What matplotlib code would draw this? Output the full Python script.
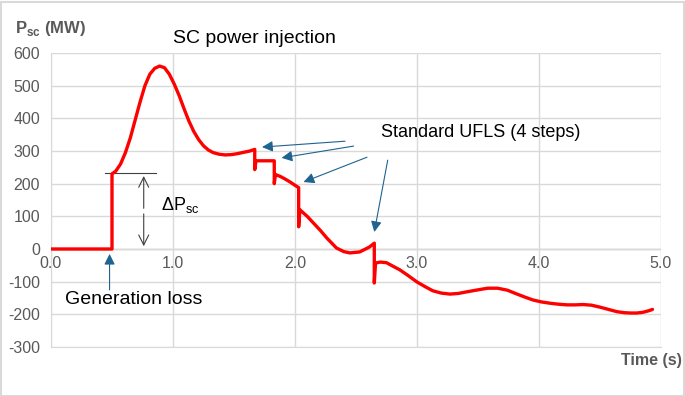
import matplotlib
matplotlib.use("Agg")
import matplotlib.pyplot as plt
from matplotlib.patches import Rectangle

plt.rcParams['font.family'] = ['Liberation Sans', 'DejaVu Sans']
plt.rcParams['mathtext.fontset'] = 'custom'
plt.rcParams['mathtext.rm'] = 'Liberation Sans'
plt.rcParams['mathtext.bf'] = 'Liberation Sans:bold'
plt.rcParams['axes.unicode_minus'] = False

# SC power injection (MW) vs time (s)
t = [0.00, 0.50, 0.50, 0.53, 0.57, 0.61, 0.65, 0.69, 0.73, 0.77, 0.81, 0.85,
     0.89, 0.93, 0.97, 1.01, 1.05, 1.09, 1.13, 1.17, 1.21, 1.25, 1.29, 1.33,
     1.38, 1.43, 1.48, 1.53, 1.58, 1.63, 1.67, 1.67, 1.68, 1.83, 1.83, 1.84,
     1.88, 1.92, 1.96, 2.00, 2.03, 2.03, 2.04, 2.10, 2.15, 2.21, 2.26, 2.34,
     2.40, 2.45, 2.53, 2.61, 2.65, 2.65, 2.66, 2.70, 2.75, 2.80, 2.86, 2.93,
     3.00, 3.07, 3.13, 3.20, 3.27, 3.34, 3.41, 3.50, 3.58, 3.66, 3.74, 3.82,
     3.89, 3.95, 4.02, 4.09, 4.16, 4.23, 4.30, 4.36, 4.43, 4.50, 4.57, 4.64,
     4.70, 4.75, 4.80, 4.85, 4.90, 4.93]
p = [0, 0, 230, 238, 260, 295, 340, 395, 450, 500, 535, 553,
     560, 555, 535, 505, 470, 430, 392, 360, 335, 316, 303, 295,
     290, 288, 289, 292, 296, 300, 305, 243, 270, 270, 200, 228,
     222, 214, 205, 195, 188, 68, 120, 100, 80, 56, 34, 3,
     -8, -12, -9, 6, 18, -104, -43, -40, -42, -52, -64, -82,
     -101, -116, -128, -135, -138, -136, -131, -125, -120, -120, -126, -138,
     -148, -156, -162, -166, -169, -171, -171, -170, -172, -178, -185, -192,
     -195, -196, -196, -194, -189, -185]

yticks = [-300, -200, -100, 0, 100, 200, 300, 400, 500, 600]
xticks = [0.0, 1.0, 2.0, 3.0, 4.0, 5.0]
xlabels = ["0.0", "1.0", "2.0", "3.0", "4.0", "5.0"]

# UFLS arrows: (tail, head)
ufls_arrows = [((2.41, 330), (1.73, 312)),
               ((2.48, 315), (1.89, 279)),
               ((2.59, 281), (2.07, 205)),
               ((2.76, 272), (2.65, 52))]

fig = plt.figure(figsize=(6.85, 3.96), dpi=100)
ax = fig.add_axes([51 / 685, 1 - 347 / 396, 610 / 685, 294 / 396])

gray = '#595959'
blue = '#1f6391'

ax.set_xlim(0, 5)
ax.set_ylim(-300, 600)
ax.set_yticks(yticks)
ax.set_xticks(xticks)
ax.set_xticklabels([])
ax.tick_params(length=0, labelsize=11.5, colors=gray, pad=8)
ax.grid(True, color='#d9d9d9', lw=1)
ax.axhline(0, color='#bfbfbf', lw=1, zorder=1)
for s in ax.spines.values():
    s.set_visible(False)
ax.spines['left'].set_visible(True)
ax.spines['left'].set_color('#d9d9d9')
ax.spines['bottom'].set_visible(True)
ax.spines['bottom'].set_color('#d9d9d9')

for x, lab in zip(xticks, xlabels):
    ax.text(x, -22, lab, ha='center', va='top', fontsize=11.5, color=gray)

ax.plot(t, p, color='#ff0000', lw=2.4, solid_joinstyle='round',
        solid_capstyle='round', zorder=3)

# delta P marker
ax.plot([0.44, 0.86], [232, 232], color='#404040', lw=0.8, zorder=2)
ax.annotate('', xy=(0.76, 232), xytext=(0.76, 116),
            arrowprops=dict(arrowstyle='->', color='#404040', lw=0.8, mutation_scale=18))
ax.annotate('', xy=(0.76, 0), xytext=(0.76, 116),
            arrowprops=dict(arrowstyle='->', color='#404040', lw=0.8, mutation_scale=18))
ax.text(0.90, 135, r'ΔP$_{\mathrm{sc}}$', fontsize=13, va='center', ha='left')

for tail, head in ufls_arrows:
    ax.annotate('', xy=head, xytext=tail, annotation_clip=False,
                arrowprops=dict(arrowstyle='-|>', color=blue, lw=0.8,
                                mutation_scale=16, shrinkA=0, shrinkB=0))

ax.annotate('', xy=(0.48, -15), xytext=(0.48, -125), annotation_clip=False,
            arrowprops=dict(arrowstyle='-|>', color=blue, lw=0.8,
                            mutation_scale=16, shrinkA=0, shrinkB=0))

ax.text(1.67, 645, 'SC power injection', fontsize=14, ha='center', va='center')
ax.text(3.52, 358, 'Standard UFLS (4 steps)', fontsize=13, ha='center', va='center')
ax.text(0.68, -156, 'Generation loss', fontsize=14, ha='center', va='center')

fig.text(15 / 685, 1 - 28 / 396, r'P$_{\mathbf{sc}}$ (MW)', fontsize=12,
         fontweight='bold', color=gray, ha='left', va='center')
fig.text(682 / 685, 1 - 361 / 396, 'Time (s)', fontsize=11.5,
         fontweight='bold', color=gray, ha='right', va='center')

fig.patches.append(Rectangle((0.5 / 685, 0.5 / 396), 683 / 685, 394 / 396,
                             transform=fig.transFigure, fill=False,
                             edgecolor='#d9d9d9', lw=1.5))

fig.savefig('out.png', dpi=100)
